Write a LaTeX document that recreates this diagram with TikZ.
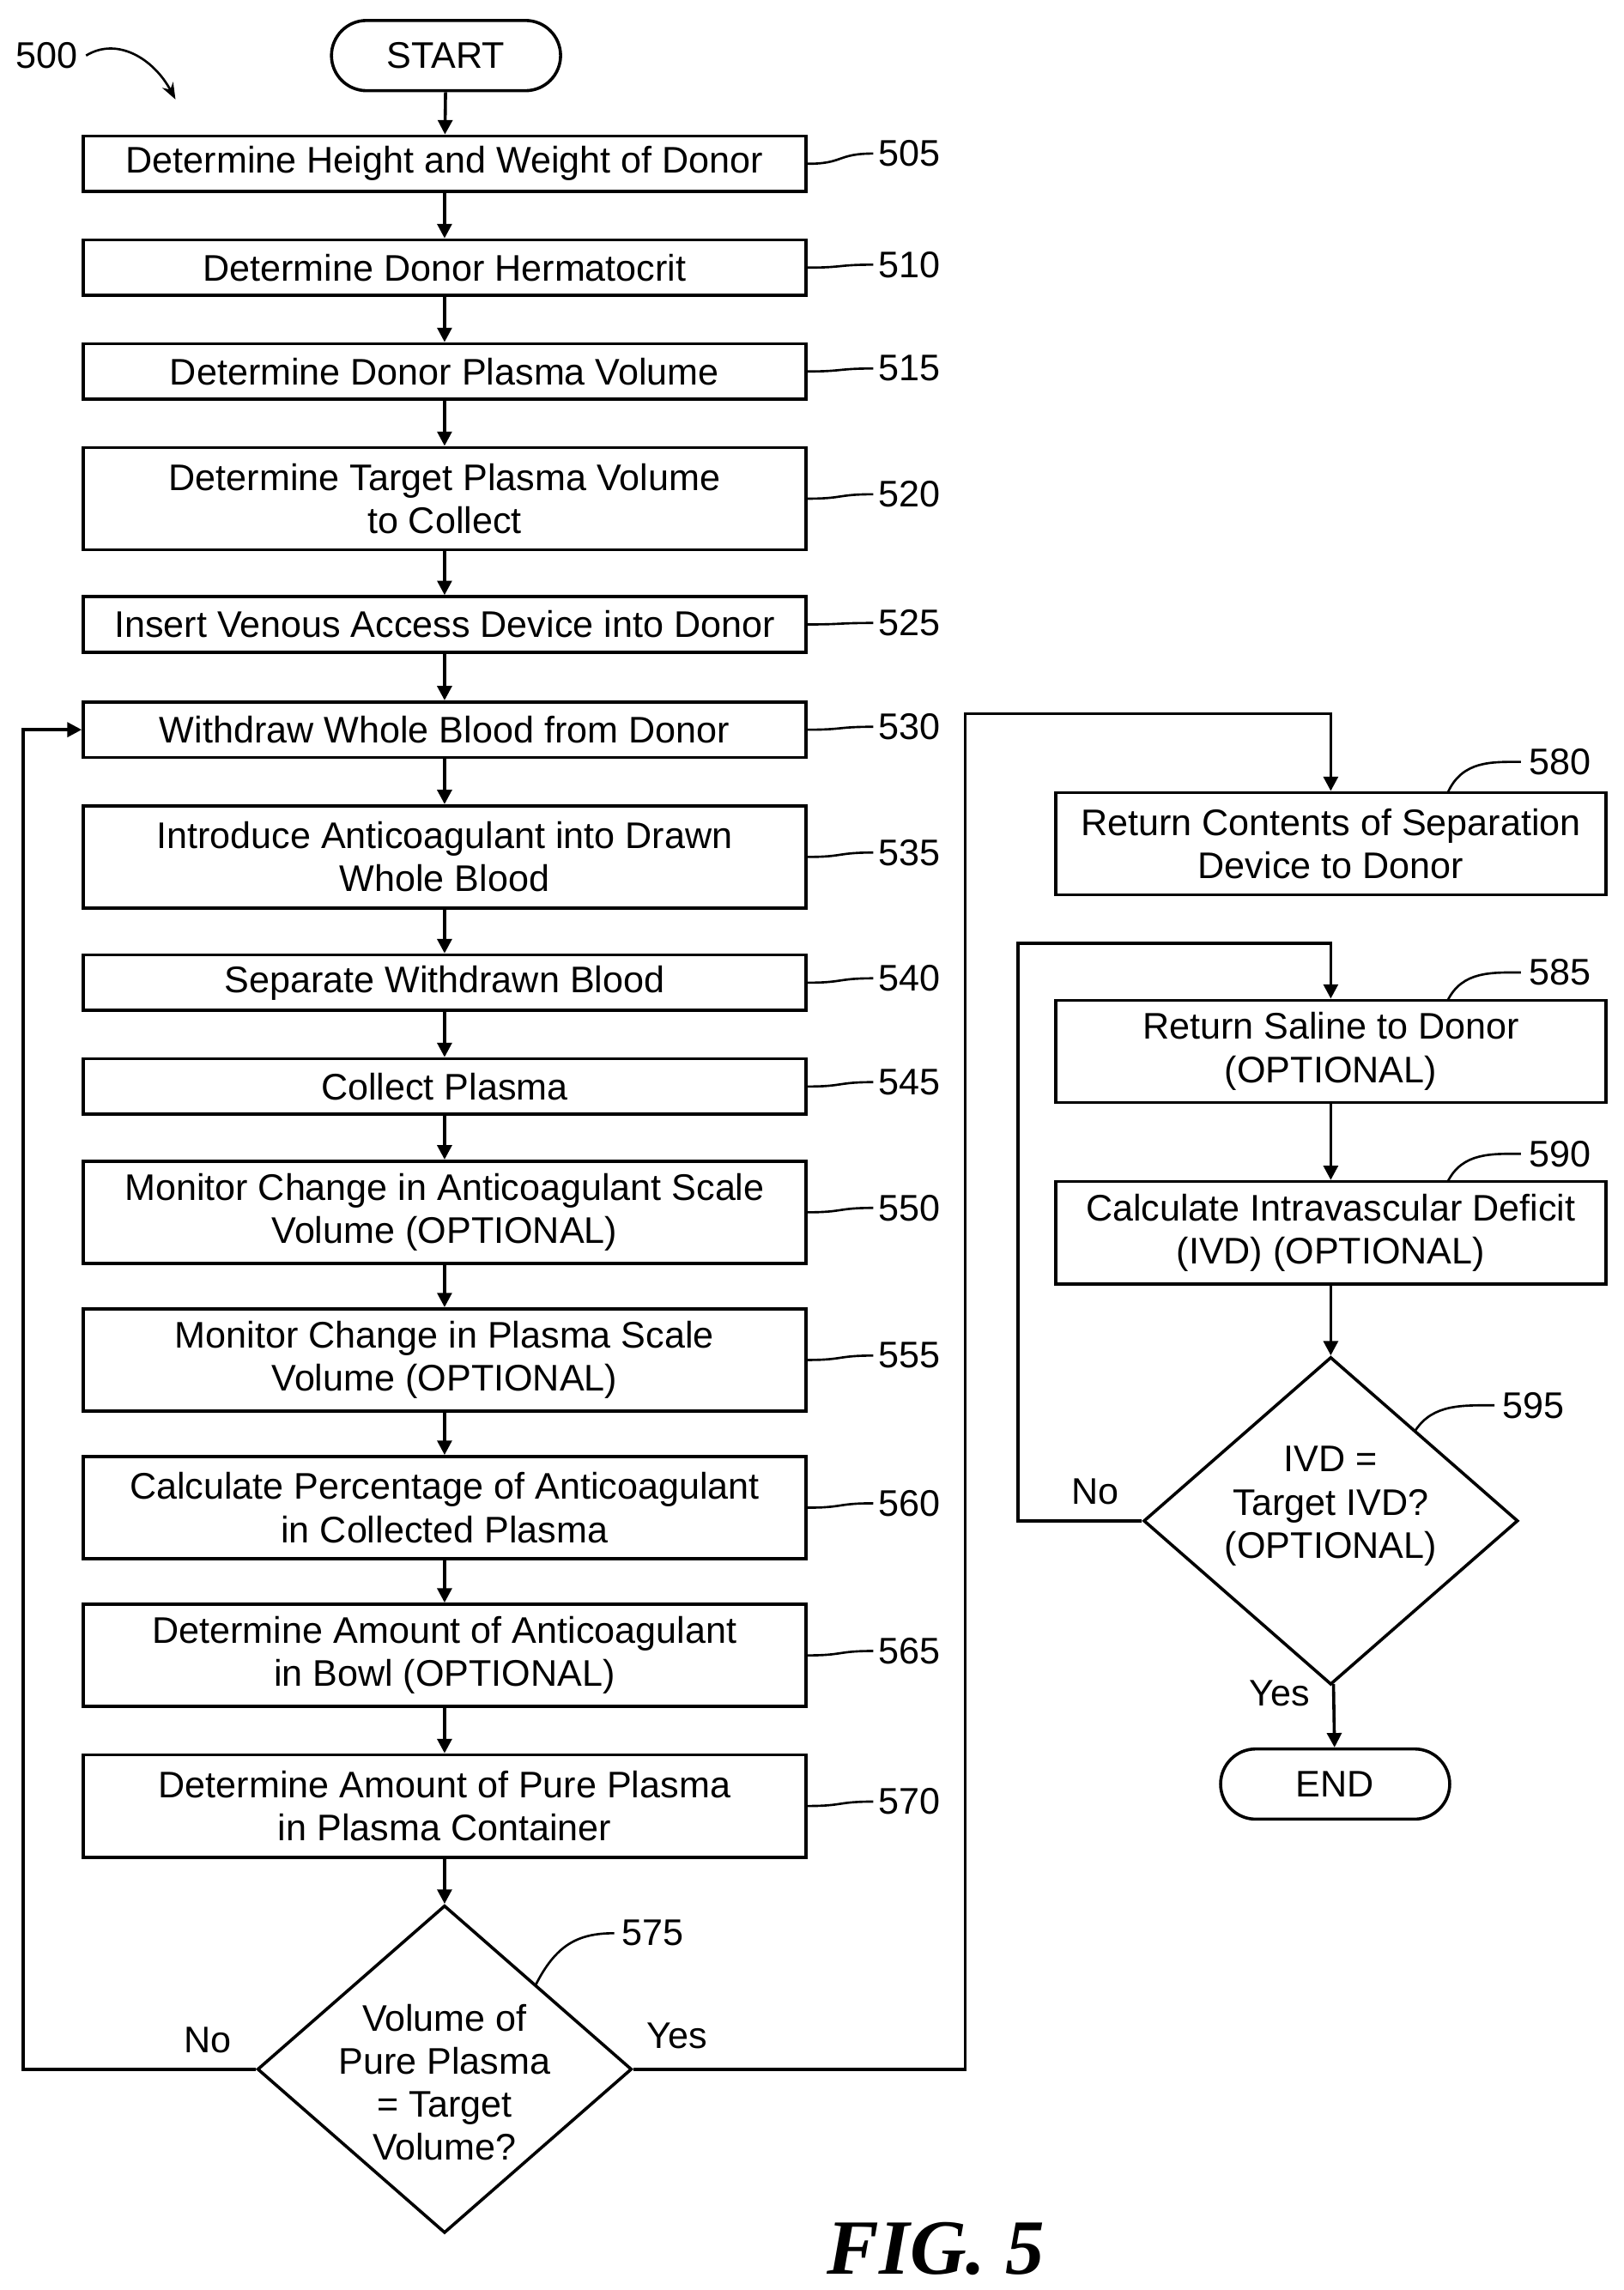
\documentclass[tikz,border=0pt]{standalone}
\usepackage{fontspec}
\setmainfont{Liberation Sans}
\newfontfamily\figfont{Liberation Serif}
\usetikzlibrary{shapes.geometric,shapes.misc,arrows.meta}

\begin{document}
\begin{tikzpicture}[x=0.025cm,y=-0.025cm,line width=1.5pt,
  every node/.style={font=\fontsize{18}{21}\selectfont},
  box/.style={draw,rectangle,minimum width=12.35cm,minimum height=0.95cm,align=center,inner sep=0pt},
  tall/.style={box,minimum height=1.75cm},
  rbox/.style={tall,minimum width=9.4cm},
  term/.style={draw,rounded rectangle,minimum width=4.15cm,minimum height=1.2cm},
  dec/.style={draw,diamond,minimum width=6.4cm,minimum height=5.6cm,inner sep=0pt},
  flow/.style={-{Triangle[length=7pt,width=7pt]}},
  lead/.style={line width=1.1pt}]
\useasboundingbox (0,0) rectangle (1110,1566);

% left column
\node[term] (start) at (305,38) {START};
\node[box] (b505) at (304,112) {Determine Height and Weight of Donor};
\node[box] (b510) at (304,183) {Determine Donor Hermatocrit};
\node[box] (b515) at (304,254) {Determine Donor Plasma Volume};
\node[tall] (b520) at (304,341) {Determine Target Plasma Volume\\to Collect};
\node[box] (b525) at (304,427) {Insert Venous Access Device into Donor};
\node[box] (b530) at (304,499) {Withdraw Whole Blood from Donor};
\node[tall] (b535) at (304,586) {Introduce Anticoagulant into Drawn\\Whole Blood};
\node[box] (b540) at (304,672) {Separate Withdrawn Blood};
\node[box] (b545) at (304,743) {Collect Plasma};
\node[tall] (b550) at (304,829) {Monitor Change in Anticoagulant Scale\\Volume (OPTIONAL)};
\node[tall] (b555) at (304,930) {Monitor Change in Plasma Scale\\Volume (OPTIONAL)};
\node[tall] (b560) at (304,1031) {Calculate Percentage of Anticoagulant\\in Collected Plasma};
\node[tall] (b565) at (304,1132) {Determine Amount of Anticoagulant\\in Bowl (OPTIONAL)};
\node[tall] (b570) at (304,1235) {Determine Amount of Pure Plasma\\in Plasma Container};
\node[dec] (d575) at (304,1415) {};
\node[align=center] (t575) at (304,1424) {Volume of\\Pure Plasma\\= Target\\Volume?};

% right column
\node[rbox] (b580) at (910,577) {Return Contents of Separation\\Device to Donor};
\node[rbox] (b585) at (910,719) {Return Saline to Donor\\(OPTIONAL)};
\node[rbox] (b590) at (910,843) {Calculate Intravascular Deficit\\(IVD) (OPTIONAL)};
\node[dec] (d595) at (910,1040) {};
\node[align=center] (t595) at (910,1030) {IVD =\\Target IVD?\\(OPTIONAL)};
\node[term] (end) at (913,1220) {END};

% flow
\foreach \a/\b in {start/b505,b505/b510,b510/b515,b515/b520,b520/b525,b525/b530,
  b530/b535,b535/b540,b540/b545,b545/b550,b550/b555,b555/b560,b560/b565,b565/b570,
  b570/d575,b585/b590,b590/d595,d595/end}
  \draw[flow] (\a) -- (\b);
\draw[flow] (d575.west) -- (16,1415) -- (16,499) -- (b530.west);
\draw[flow] (d575.east) -- (660,1415) -- (660,488) -- (910,488) -- (b580.north);
\draw[flow] (d595.west) -- (696,1040) -- (696,645) -- (910,645) -- (b585.north);
\node at (142,1395) {No};
\node at (463,1392) {Yes};
\node at (749,1020) {No};
\node at (875,1158) {Yes};

% reference numbers
\foreach \n/\d in {505/-7,510/-2,515/-2,520/-3,525/-1,530/-2,535/-3,540/-3,545/-3,
  550/-3,555/-3,560/-3,565/-3,570/-3}
  \draw[lead] (b\n.east) .. controls +(25,0) and +(-25,0) .. ++(45,\d) node[right,inner sep=2pt] {\n};
\draw[lead] (990,542) .. controls (1000,520) and (1020,521) .. (1040,521) node[right] {580};
\draw[lead] (990,684) .. controls (1000,664) and (1020,665) .. (1040,665) node[right] {585};
\draw[lead] (990,808) .. controls (1000,788) and (1020,789) .. (1040,789) node[right] {590};
\draw[lead] (968,978) .. controls (980,960) and (1000,961) .. (1022,961) node[right] {595};
\draw[lead] (366,1358) .. controls (380,1330) and (395,1322) .. (420,1322) node[right] {575};
\node (lbl) at (32,38) {500};
\draw[lead,-{Stealth[length=8pt]}] (lbl.east) .. controls (80,25) and (105,40) .. (120,68);

\node[font=\figfont\fontsize{38}{40}\selectfont\bfseries\itshape] (fig) at (640,1538) {FIG. 5};
\end{tikzpicture}
\end{document}
